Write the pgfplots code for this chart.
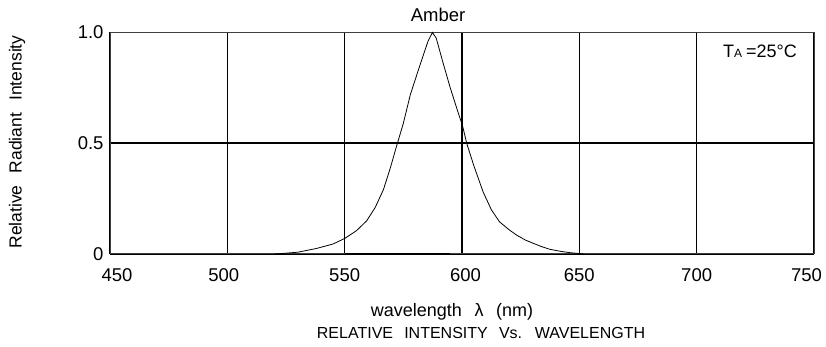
\documentclass[border=0pt]{standalone}
\usepackage{fontspec}
\setmainfont{Liberation Sans}
\usepackage{pgfplots}
\pgfplotsset{compat=1.18}
\newcommand{\fs}[1]{\fontsize{#1}{#1}\selectfont\spaceskip=0.7em plus 0.05em\relax}
\begin{document}
\begin{tikzpicture}[x=1pt,y=1pt]
\useasboundingbox (0,0) rectangle (826,347);
\begin{axis}[
  at={(110pt,93pt)}, anchor=south west,
  scale only axis, width=704pt, height=221.5pt,
  xmin=450, xmax=750, ymin=0, ymax=1,
  xtick={450,500,...,750}, ytick={0,0.5,1},
  xticklabels={{\rule{14pt}{0pt}450},{500\rule{7pt}{0pt}},550,{\rule{7pt}{0pt}600},650,700,{\raisebox{3pt}{750}\rule{15pt}{0pt}}},
  yticklabels={0,0.5,1.0},
  major tick length=0pt,
  grid=major,
  grid style={black, line width=1.5pt},
  axis line style={black!75, line width=1pt},
  /pgf/number format/assume math mode=true,
  xticklabel style={font=\fs{18.5}, yshift=-11pt},
  yticklabel style={font=\fs{18.5}, xshift=-3pt},
  clip=false,
]
\addplot[black, line width=0.8pt] coordinates {
(520,0) (523,0.002) (530,0.008) (538,0.025) (545,0.045) (550,0.070)
(555,0.105) (559.4,0.15) (563,0.21) (566.5,0.29) (569.5,0.39) (572.2,0.49)
(575,0.59) (578,0.72) (582,0.85) (585.5,0.96) (587.4,1.0) (589,0.975)
(592,0.86) (595,0.75) (598,0.65) (600.2,0.58) (602,0.50) (605,0.40)
(609,0.28) (612.5,0.20) (616,0.145) (620,0.11) (623.3,0.085) (627,0.063)
(630.4,0.048) (634,0.033) (637.5,0.021) (642,0.012) (646,0.006) (650,0.002) (652,0)
};
\addplot[black, line width=1.4pt] coordinates {(550,0) (595,0)};
\end{axis}
\node[font=\fs{18.5}] at (438,332) {Amber};
\node[font=\fs{18}, anchor=west, inner sep=0pt] at (723,296) {T{\fontsize{12}{12}\selectfont A}\hspace{4pt}=25°C};
\node[font=\fs{18}] at (452,35) {wavelength λ (nm)};
\node[font=\fs{16}] at (481,14) {RELATIVE INTENSITY Vs. WAVELENGTH};
\node[font=\fs{17.5}, rotate=90] at (17,205) {Relative Radiant Intensity};
\end{tikzpicture}
\end{document}
